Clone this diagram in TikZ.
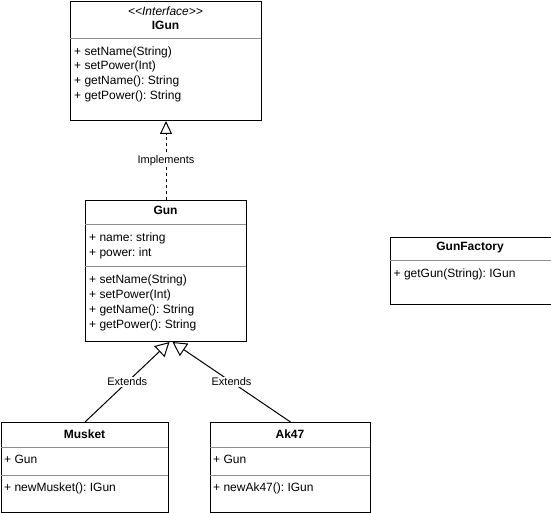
\documentclass[tikz,border=0pt]{standalone}
\usepackage{fontspec}
\setmainfont{Liberation Sans}
\frenchspacing
\usetikzlibrary{arrows.meta,calc}
\tikzset{
  cls/.style={draw=black, line width=1pt, fill=white, inner sep=0pt, anchor=north west},
  divider/.style={draw=black!45, line width=1pt},
  ttl/.style={anchor=base, inner sep=0pt, font=\fontsize{12}{14}\selectfont\bfseries},
  stereo/.style={anchor=base, inner sep=0pt, font=\fontsize{12}{14}\selectfont\itshape},
  mbr/.style={anchor=base west, inner sep=0pt, font=\fontsize{12}{14}\selectfont},
  lbl/.style={fill=white, inner sep=1pt, font=\fontsize{11}{13}\selectfont},
  impl/.style={line width=1pt, dash pattern=on 3pt off 3pt, -{Triangle[open, length=13pt, width=12pt, line width=1pt]}},
  ext/.style={line width=1pt, -{Triangle[open, length=14pt, width=15pt, line width=1pt]}}
}
\begin{document}
\begin{tikzpicture}[x=1pt, y=-1pt]
\frenchspacing
\useasboundingbox (0,0) rectangle (551,513);

% IGun
\node[cls, minimum width=191pt, minimum height=119pt] (igun) at (70,1) {};
\draw[divider] (70,39) -- (261,39);
\node[stereo] (igunS) at (165.5,16) {<\kern0pt<Interface>\kern0pt>};
\node[ttl] (igunT) at (165.5,29.5) {IGun};
\node[mbr] (igunM1) at (74,55.5) {+ setName(String)};
\node[mbr] (igunM2) at (74,70) {+ setPower(Int)};
\node[mbr] (igunM3) at (74,85) {+ getName(): String};
\node[mbr] (igunM4) at (74,99.5) {+ getPower(): String};

% Gun
\node[cls, minimum width=161pt, minimum height=141pt] (gun) at (85,200) {};
\draw[divider] (85,224) -- (246,224);
\draw[divider] (85,266) -- (246,266);
\node[ttl] (gunT) at (165.5,214.5) {Gun};
\node[mbr] (gunA1) at (89,241) {+ name: string};
\node[mbr] (gunA2) at (89,256) {+ power: int};
\node[mbr] (gunM1) at (89,283) {+ setName(String)};
\node[mbr] (gunM2) at (89,298) {+ setPower(Int)};
\node[mbr] (gunM3) at (89,313) {+ getName(): String};
\node[mbr] (gunM4) at (89,328) {+ getPower(): String};

% GunFactory
\node[cls, minimum width=161pt, minimum height=67pt] (fac) at (389.5,237) {};
\draw[divider] (389.5,260) -- (550.5,260);
\node[ttl] (facT) at (470,250) {GunFactory};
\node[mbr] (facM1) at (393.5,277) {+ getGun(String): IGun};

% Musket
\node[cls, minimum width=167pt, minimum height=90pt] (musket) at (1,422) {};
\draw[divider] (1,447) -- (168,447);
\draw[divider] (1,475) -- (168,475);
\node[ttl] (musketT) at (84.5,438) {Musket};
\node[mbr] (musketA1) at (4,463.5) {+ Gun};
\node[mbr] (musketM1) at (4,491.5) {+ newMusket(): IGun};

% Ak47
\node[cls, minimum width=160pt, minimum height=90pt] (ak) at (210,422) {};
\draw[divider] (210,447) -- (370,447);
\draw[divider] (210,475) -- (370,475);
\node[ttl] (akT) at (290,438) {Ak47};
\node[mbr] (akA1) at (213,463.5) {+ Gun};
\node[mbr] (akM1) at (213,491.5) {+ newAk47(): IGun};

% connectors
\draw[impl] (gun.north) -- (igun.south) node[midway, lbl] {Implements};
\coordinate (gl) at ([xshift=3.5pt]gun.south);
\coordinate (gr) at ([xshift=6.5pt]gun.south);
\draw[ext] (musket.north) -- (gl) node[midway, lbl] {Extends};
\draw[ext] (ak.north) -- (gr) node[midway, lbl] {Extends};
\end{tikzpicture}
\end{document}
